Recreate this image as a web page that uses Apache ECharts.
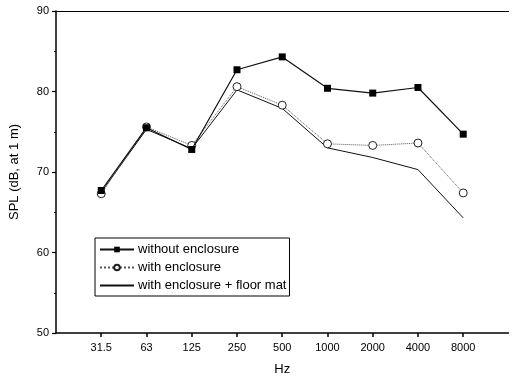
<!DOCTYPE html>
<html>
<head>
<meta charset="utf-8">
<script src="https://cdn.jsdelivr.net/npm/echarts@6/dist/echarts.min.js"></script>
<style>
  html, body { margin: 0; padding: 0; background: #fff; }
  #chart { width: 513px; height: 381px; }
</style>
</head>
<body>
<div id="chart"></div>
<script>
// frequency bands (Hz)
const freqs = ['31.5', '63', '125', '250', '500', '1000', '2000', '4000', '8000']
const withoutEnclosure = [67.7, 75.5, 72.8, 82.7, 84.3, 80.4, 79.8, 80.5, 74.7]
const withEnclosure = [67.3, 75.6, 73.3, 80.6, 78.3, 73.5, 73.3, 73.6, 67.4]
const withFloorMat = [67.5, 75.3, 72.9, 80.2, 77.9, 73.0, 71.8, 70.3, 64.3]
const yTicks = [50, 60, 70, 80, 90]

// padding slots at both ends so the first band sits one step in from the axis
const cats = [''].concat(freqs, [' '])
const pairs = vals => freqs.map((f, i) => [f, vals[i]])

const font = 'Arial, "Liberation Sans", sans-serif'

const chart = echarts.init(document.getElementById('chart'))
chart.setOption({
  animation: false,
  backgroundColor: '#fff',
  grid: { left: 53, right: 0, top: 11, bottom: 45 },
  legend: {
    orient: 'vertical',
    left: 95,
    top: 238,
    itemWidth: 34,
    itemHeight: 7,
    itemGap: 5,
    padding: [5, 3, 4, 4],
    borderColor: '#000',
    borderWidth: 1,
    borderRadius: 0,
    textStyle: { fontFamily: font, fontSize: 13, color: '#000', padding: [0, 0, 0, -1] },
    data: [
      'without enclosure',
      'with enclosure',
      { name: 'with enclosure + floor mat', itemStyle: { opacity: 0 } }
    ]
  },
  xAxis: [{
    type: 'category',
    data: cats,
    boundaryGap: false,
    name: 'Hz',
    nameLocation: 'middle',
    nameGap: 30,
    nameTextStyle: { fontFamily: font, fontSize: 13, color: '#000' },
    axisLine: { lineStyle: { color: '#000', width: 1.5 } },
    axisTick: { length: 4, interval: (i) => i > 0 && i < cats.length - 1, lineStyle: { color: '#000', width: 1.5 } },
    axisLabel: { fontFamily: font, fontSize: 11, color: '#000', margin: 9, interval: 0 },
    splitLine: { show: false }
  }, {
    type: 'category',
    data: cats,
    position: 'top',
    boundaryGap: false,
    axisLine: { lineStyle: { color: '#000', width: 1.2 } },
    axisTick: { show: false },
    axisLabel: { show: false }
  }],
  yAxis: {
    type: 'value',
    min: yTicks[0],
    max: yTicks[yTicks.length - 1],
    interval: 10,
    name: 'SPL (dB, at 1 m)',
    nameLocation: 'middle',
    nameGap: 35,
    nameTextStyle: { fontFamily: font, fontSize: 13, color: '#000' },
    axisLine: { show: true, lineStyle: { color: '#000', width: 1.5 } },
    axisTick: { show: true, length: 4, lineStyle: { color: '#000', width: 1.2 } },
    minorTick: { show: true, splitNumber: 2, length: 2, lineStyle: { color: '#000' } },
    axisLabel: { fontFamily: font, fontSize: 11, color: '#000', margin: 7 },
    splitLine: { show: false }
  },
  series: [
    {
      name: 'without enclosure',
      type: 'line',
      data: pairs(withoutEnclosure),
      symbol: 'rect',
      symbolSize: 7,
      itemStyle: { color: '#000' },
      lineStyle: { color: '#111', width: 1.2 },
      z: 3
    },
    {
      name: 'with enclosure',
      type: 'line',
      data: pairs(withEnclosure),
      symbol: 'circle',
      symbolSize: 8,
      itemStyle: { color: '#fff', borderColor: '#222', borderWidth: 1 },
      lineStyle: { color: '#555', width: 1, type: 'dotted' },
      z: 2
    },
    {
      name: 'with enclosure + floor mat',
      type: 'line',
      data: pairs(withFloorMat),
      symbol: 'none',
      itemStyle: { color: '#000' },
      lineStyle: { color: '#111', width: 1 },
      z: 1
    }
  ]
})
</script>
</body>
</html>
